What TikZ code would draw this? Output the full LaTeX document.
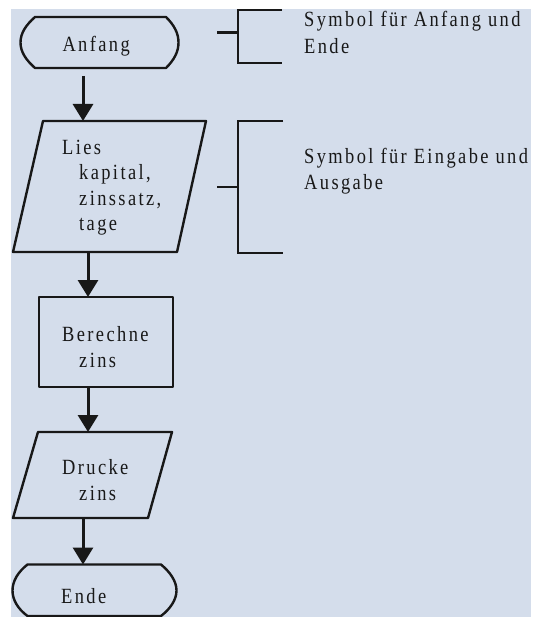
\documentclass[tikz,border=0pt]{standalone}
\usepackage{fontspec}
\setmainfont{Liberation Serif}[FakeStretch=0.85, LetterSpace=11]
\usetikzlibrary{arrows.meta}
\definecolor{bgblue}{RGB}{212,221,235}
\definecolor{ink}{RGB}{24,24,24}
\begin{document}
\begin{tikzpicture}[x=1pt,y=-1pt,
  outline/.style={draw=ink, line width=2.4pt, line join=round},
  bracket/.style={draw=ink, line width=2.6pt},
  flow/.style={draw=ink, line width=3pt, -{Triangle[width=20pt,length=17pt]}},
  txt/.style={anchor=base west, inner sep=0pt, text=ink, font=\fontsize{21.7}{26}\selectfont}]
\useasboundingbox (0,0) rectangle (535,617);
\fill[bgblue] (11,9) rectangle (531,617);

% Anfang terminal
\draw[outline] (35,17) -- (166,17) .. controls (174,25) and (178.5,33) .. (178.5,42.5)
  .. controls (178.5,52) and (174,60) .. (166,68) -- (35,68)
  .. controls (26,60) and (20.5,52) .. (20.5,42.5) .. controls (20.5,33) and (26,25) .. (35,17) -- cycle;
\node[txt] (anfang) at (62.3,51.7) {Anfang};
\coordinate (anfangS) at (83,76);

% Lies parallelogram
\draw[outline] (43,121) -- (206,121) -- (177,252) -- (13,252) -- cycle;
\coordinate (liesN) at (83,121);
\coordinate (liesS) at (88,252);
\node[txt] (lies1) at (62,155) {Lies};
\node[txt] (lies2) at (79,180) {kapital,};
\node[txt] (lies3) at (79,205.5) {zinssatz,};
\node[txt] (lies4) at (79,230.5) {tage};

% Berechne rectangle
\draw[outline] (39,297) rectangle (173,387);
\coordinate (berN) at (88,297);
\coordinate (berS) at (88,387);
\node[txt] (ber1) at (62,341) {Berechne};
\node[txt] (ber2) at (79,367) {zins};

% Drucke parallelogram
\draw[outline] (38,432) -- (172,432) -- (148,518) -- (13,518) -- cycle;
\coordinate (druN) at (88,432);
\coordinate (druS) at (83,518);
\node[txt] (dru1) at (62,474) {Drucke};
\node[txt] (dru2) at (79,500) {zins};

% Ende terminal
\draw[outline] (27.5,564.5) -- (161,564.5) .. controls (170,572) and (176.5,581) .. (176.5,590.5)
  .. controls (176.5,600) and (170,609) .. (161,616) -- (27.5,616)
  .. controls (18,609) and (12.5,600) .. (12.5,590.5) .. controls (12.5,581) and (18,572) .. (27.5,564.5) -- cycle;
\coordinate (endeN) at (83,564.5);
\node[txt] (ende) at (61,603) {Ende};

% connectors
\draw[flow] (anfangS) -- (liesN);
\draw[flow] (liesS) -- (berN);
\draw[flow] (berS) -- (druN);
\draw[flow] (druS) -- (endeN);

% bracket 1
\coordinate (b1stub) at (217,32.3);
\coordinate (b1mid) at (238,32.3);
\coordinate (b1top) at (238,10);
\coordinate (b1bot) at (238,63);
\coordinate (b1topE) at (282,10);
\coordinate (b1botE) at (282,63);
\draw[bracket] (b1stub) -- (b1mid);
\draw[bracket] (b1topE) -- (b1top) -- (b1bot) -- (b1botE);
\node[txt] (note1a) at (304,26.7) {Symbol für Anfang und};
\node[txt] (note1b) at (304,53.3) {Ende};

% bracket 2
\coordinate (b2stub) at (217,187);
\coordinate (b2mid) at (238,187);
\coordinate (b2top) at (238,121);
\coordinate (b2bot) at (238,253);
\coordinate (b2topE) at (283,121);
\coordinate (b2botE) at (283,253);
\draw[bracket] (b2stub) -- (b2mid);
\draw[bracket] (b2topE) -- (b2top) -- (b2bot) -- (b2botE);
\node[txt] (note2a) at (304,164) {Symbol für Eingabe und};
\node[txt] (note2b) at (304,190) {Ausgabe};
\end{tikzpicture}
\end{document}
